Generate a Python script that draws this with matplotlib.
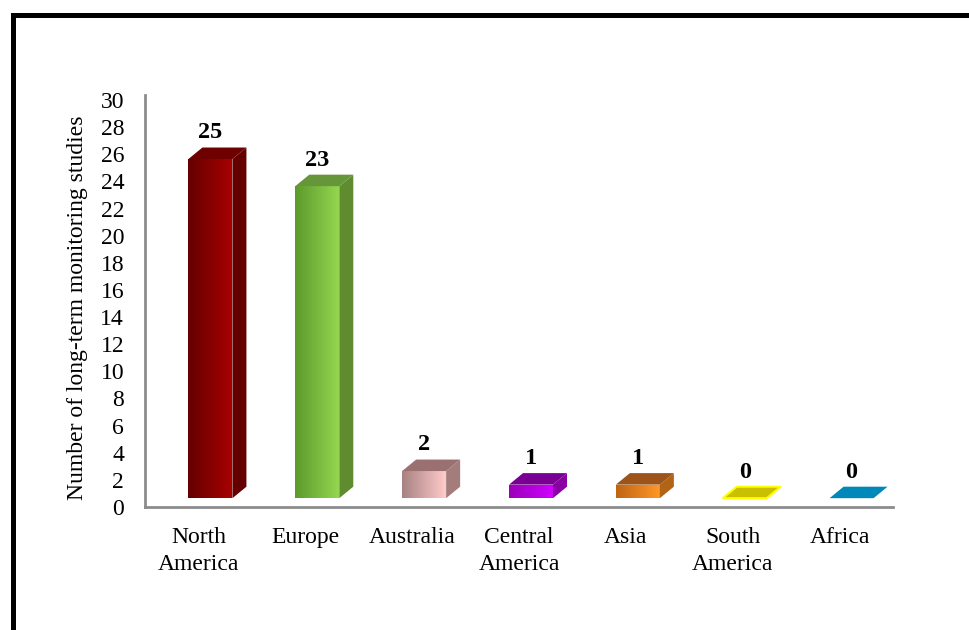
import numpy as np
import matplotlib
matplotlib.use("Agg")
import matplotlib.pyplot as plt
from matplotlib.patches import Polygon
from matplotlib.lines import Line2D
from matplotlib.colors import LinearSegmentedColormap

categories = ["North\nAmerica", "Europe", "Australia", "Central\nAmerica", "Asia", "South\nAmerica", "Africa"]
values = [25, 23, 2, 1, 1, 0, 0]
yticks = list(range(0, 31, 2))

# styles: (front gradient left, front gradient right, side, top)
styles = [
    ("#640000", "#a80000", "#650000", "#6e0000"),
    ("#5c9a2c", "#94d650", "#5e8c2e", "#66963a"),
    ("#a88282", "#ffcaca", "#a47c7c", "#9a7070"),
    ("#9a00b8", "#d000ff", "#8a00a4", "#7a0094"),
    ("#c06414", "#ff9828", "#b06414", "#9c5418"),
    ("#c8c000", "#c8c000", "#c8c000", "#c8c000"),
    ("#0088bb", "#0088bb", "#0088bb", "#0088bb"),
]
edge_override = {5: "#ffff00"}

plt.rcParams['font.family'] = ['Liberation Serif', 'DejaVu Serif']
FS = 17

W, H = 969, 630
fig = plt.figure(figsize=(W / 100, H / 100), dpi=100)
ax_left, ax_right = 145, 893
y0_px, y30_px = 507, 100
ymax = 30.35
px_per_unit = (y0_px - y30_px) / 30.0
ax_h = ymax * px_per_unit
ax = fig.add_axes([ax_left / W, (H - y0_px) / H, (ax_right - ax_left) / W, ax_h / H])

cat_px = (ax_right - ax_left) / len(categories)
shift = 12 / cat_px
bw = 44 / cat_px
dx = 14 / cat_px
dy = 11.5 / px_per_unit
base = 0.65
x = np.arange(len(categories))

bars = ax.bar(x + shift, values, width=bw, bottom=base, color="none", edgecolor="none", zorder=2)
for i, (b, v) in enumerate(zip(bars, values)):
    cl, cr, cs, ct = styles[i]
    x0 = b.get_x()
    x1 = x0 + b.get_width()
    bot = b.get_y()
    top = bot + b.get_height()
    if v > 0:
        cmap = LinearSegmentedColormap.from_list("g%d" % i, [cl, cr])
        grad = np.linspace(0, 1, 100).reshape(1, -1)
        im = ax.imshow(grad, cmap=cmap, extent=[x0, x1, bot, top], aspect="auto", zorder=3)
        im.set_clip_path(b)
        side = Polygon([(x1, bot), (x1 + dx, bot + dy), (x1 + dx, top + dy), (x1, top)],
                       closed=True, facecolor=cs, edgecolor="none", zorder=3)
        ax.add_patch(side)
    ec = edge_override.get(i, "none")
    topf = Polygon([(x0, top), (x1, top), (x1 + dx, top + dy), (x0 + dx, top + dy)],
                   closed=True, facecolor=ct, edgecolor=ec, linewidth=1.5, zorder=4)
    ax.add_patch(topf)
    ax.text(x0 + b.get_width() / 2, top + dy + 0.3, str(v), ha="center", va="bottom",
            fontsize=17.5, fontweight="bold", color="black", zorder=5)

ax.set_xlim(-0.5, len(categories) - 0.5)
ax.set_ylim(0, ymax)
ax.set_yticks(yticks)
ax.set_yticklabels([str(t) for t in yticks], fontsize=FS)
ax.set_xticks(x)
ax.set_xticklabels(categories, fontsize=FS, linespacing=1.35)
ax.tick_params(axis="both", length=0)
ax.tick_params(axis="y", pad=15)
ax.tick_params(axis="x", pad=14.5)
for s in ["top", "right"]:
    ax.spines[s].set_visible(False)
for s in ["left", "bottom"]:
    ax.spines[s].set_color("#8c8c8c")
    ax.spines[s].set_linewidth(2)

fig.text(78 / W, 1 - 308 / H, "Number of long-term monitoring studies", rotation=90,
         ha="center", va="center", fontsize=FS)

# outer black frame (left and top)
fig.add_artist(Line2D([12.5 / W, 12.5 / W], [0, 1 - 14.5 / H], color="black", linewidth=3.6,
                      transform=fig.transFigure, solid_capstyle="projecting"))
fig.add_artist(Line2D([12.5 / W, 1], [1 - 14.5 / H, 1 - 14.5 / H], color="black", linewidth=3.6,
                      transform=fig.transFigure, solid_capstyle="projecting"))

fig.savefig("out.png", dpi=100)
